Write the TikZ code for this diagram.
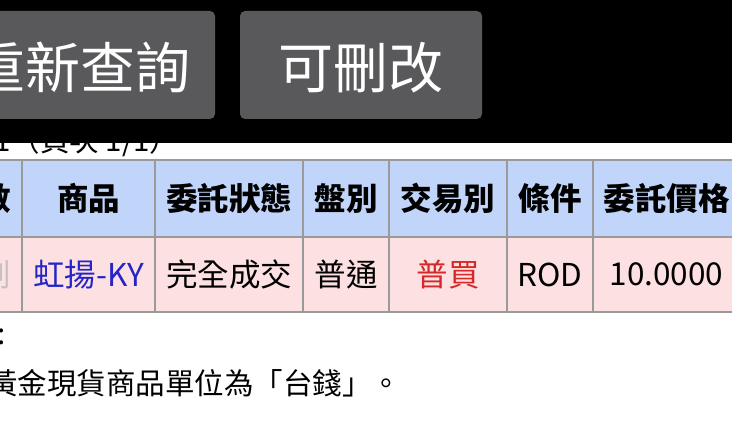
\documentclass[tikz,border=0pt]{standalone}
\usepackage{fontspec}
\setmainfont{Noto Sans CJK TC}
\definecolor{btngray}{HTML}{59595B}
\definecolor{headblue}{HTML}{C1D5FA}
\definecolor{rowpink}{HTML}{FDE0E1}
\definecolor{gridgray}{HTML}{9A9A9A}
\definecolor{linkblue}{HTML}{2424C8}
\definecolor{buyred}{HTML}{D62828}
\definecolor{fadegray}{HTML}{C8C0C0}

\begin{document}
\begin{tikzpicture}[x=1pt,y=-1pt,
  btn/.style={fill=btngray,rounded corners=5pt,text=white,inner sep=0pt,
    font=\fontsize{55}{60}\selectfont,text height=51pt,text depth=4pt,minimum height=108pt},
  cell/.style={draw=gridgray,line width=1.5pt,inner sep=0pt,font=\fontsize{31.5}{36}\selectfont},
  headcell/.style={cell,fill=headblue,minimum height=77pt,font=\fontsize{31.5}{36}\selectfont\bfseries},
  datacell/.style={cell,fill=rowpink,minimum height=75pt},
  note/.style={inner sep=0pt,font=\fontsize{29.5}{34}\selectfont}]
\useasboundingbox (0,0) rectangle (732,436);
\fill[white] (0,0) rectangle (732,436);

% page counter, half hidden by the bar
\node[note,anchor=base west] (pages) at (-6,151) {1（頁次 1/1）};
\fill[black] (-100,0) rectangle (832,143);
\node[btn,minimum width=268pt] (requery) at (81,65) {重新查詢};
\node[btn,minimum width=242pt] (editable) at (361,65) {可刪改};

% order table
\foreach \col/\xc/\w/\head/\val/\tc in {num/-5/54/數/刪/fadegray,
    item/88.5/133/商品/虹揚-KY/linkblue, state/229/148/委託狀態/完全成交/black,
    board/346/86/盤別/普通/black, side/448/118/交易別/普買/buyred,
    cond/550/86/條件/ROD/black, price/666.5/147/委託價格/10.0000/black}
{
  \node[headcell,minimum width=\w pt] (h-\col) at (\xc,198.5) {\head};
  \node[datacell,minimum width=\w pt,text=\tc] (d-\col) at (\xc,274.5) {\val};
}

\node[note] (colon) at (2,337) {:};
\node[note,anchor=west] (unitnote) at (-12,383) {黃金現貨商品單位為「台錢」。};
\end{tikzpicture}
\end{document}
